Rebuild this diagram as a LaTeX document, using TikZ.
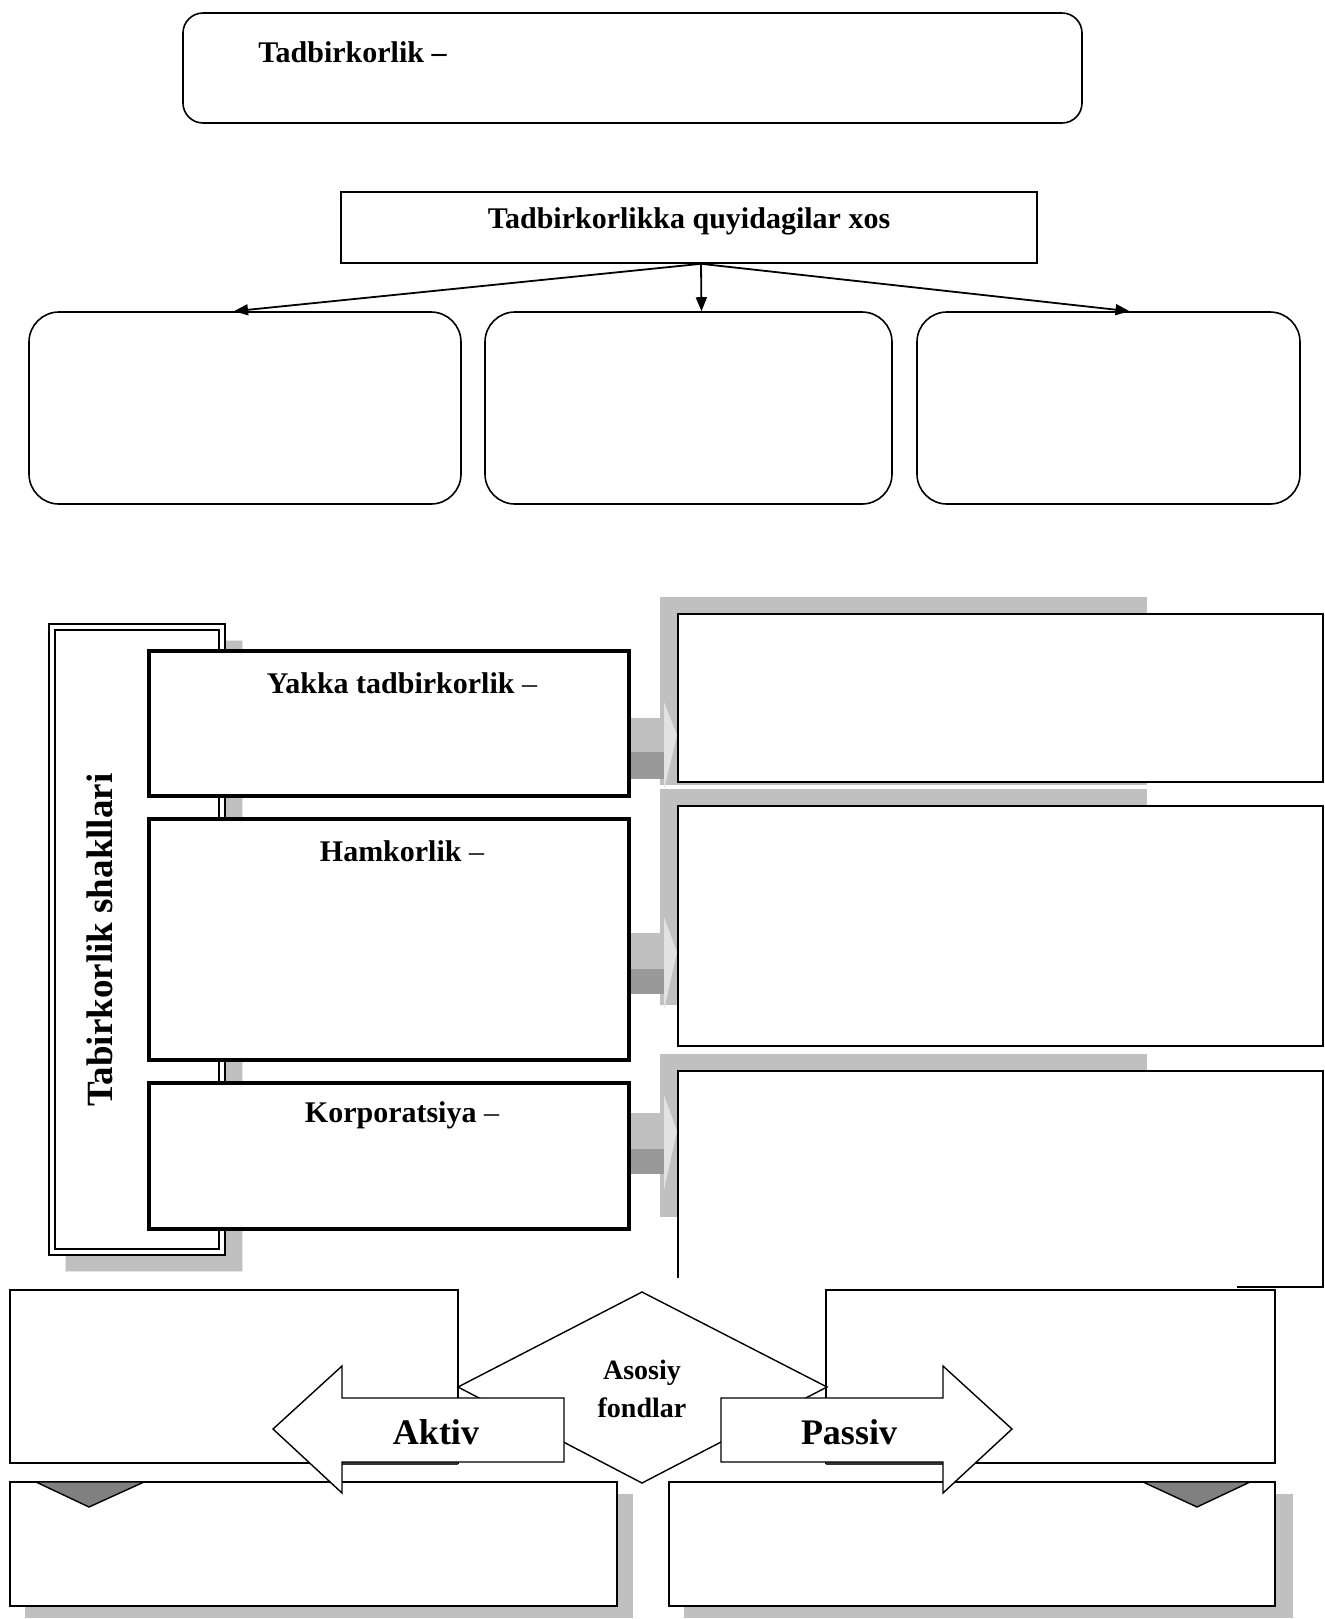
\documentclass[tikz,border=0pt]{standalone}
\usepackage{fontspec}
\setmainfont{Liberation Serif}
\usetikzlibrary{arrows.meta,fit,calc}
\definecolor{shgray}{HTML}{C0C0C0}
\definecolor{dkgray}{HTML}{999999}
\definecolor{hdgray}{HTML}{E2E2E2}
\definecolor{trigray}{HTML}{808080}
\begin{document}
\begin{tikzpicture}[x=0.5pt,y=-0.5pt,
  rbox/.style={draw, line width=0.8pt, rounded corners=15pt, inner sep=0pt},
  plainbox/.style={draw, line width=0.8pt, fill=white, inner sep=0pt},
  thickbox/.style={draw, line width=1.8pt, fill=white, inner sep=0pt},
  lbl/.style={font=\bfseries\fontsize{15}{18}\selectfont, inner sep=0pt},
  biglbl/.style={font=\bfseries\fontsize{18}{22}\selectfont, inner sep=0pt},
  smlbl/.style={font=\bfseries\fontsize{14}{17}\selectfont, inner sep=0pt, align=center},
  conn/.style={-{Triangle[length=7pt,width=5.5pt]}, line width=0.9pt},
  blockarrow/.style={draw, line width=0.7pt, fill=white}
]
\useasboundingbox (0,0) rectangle (1325,1619);

% ---------- top part ----------
\node[rbox, rounded corners=10pt, fit={(183,13) (1082,123)}] (def) {};
\node[lbl, anchor=west] (deft) at (258,52) {Tadbirkorlik –};

\node[plainbox, fit={(341,192) (1037,263)}] (xos) {};
\node[lbl] (xost) at (689,221) {Tadbirkorlikka quyidagilar xos};

\node[rbox, fit={(29,312) (461,504)}] (fa) {};
\node[rbox, fit={(485,312) (892,504)}] (fb) {};
\node[rbox, fit={(917,312) (1300,504)}] (fc) {};

\coordinate (src) at ($(xos.south)+(12,0)$);
\draw[conn] (src) -- ($(fa.north)+(-11,0)$);
\draw[conn] (src) -- ($(fb.north)+(13,0)$);
\draw[conn] (src) -- ($(fc.north)+(21,0)$);

% ---------- middle part ----------
% shadow of vertical box
\path[fill=shgray, draw=gray!20, line width=0.5pt] (65,640) rectangle (242,1271);
\node[draw, line width=1pt, fill=white, inner sep=0pt, fit={(49,624) (225,1255)}] (vbox) {};
\draw[line width=1.3pt] (55,630) rectangle (219,1249);
\node[font=\bfseries\fontsize{18.5}{22}\selectfont, rotate=90, inner sep=0pt] (vt) at (100,940) {Tabirkorlik shakllari};

% gray shadows of right boxes
\fill[shgray] (660,597) rectangle (1147,785);
\fill[shgray] (660,789) rectangle (1147,1005);
\fill[shgray] (660,1054) rectangle (1147,1217);

% right boxes
\node[draw, line width=0.9pt, fill=white, inner sep=0pt, fit={(678,614) (1323,782)}] (r1) {};
\node[draw, line width=0.9pt, fill=white, inner sep=0pt, fit={(678,806) (1323,1046)}] (r2) {};
\fill[white] (678,1071) rectangle (1323,1287);
\coordinate (r3nw) at (678,1071);
\coordinate (r3ne) at (1323,1071);
\coordinate (r3sw) at (678,1278);
\coordinate (r3se) at (1323,1287);
\coordinate (r3sm) at (1237,1287);
\draw[line width=0.9pt] (r3sw) -- (r3nw) -- (r3ne) -- (r3se) -- (r3sm);

% left boxes
\node[thickbox, fit={(149,651) (629,796)}] (yak) {};
\node[thickbox, fit={(149,819) (629,1060)}] (ham) {};
\node[thickbox, fit={(149,1083) (629,1229)}] (kor) {};
\node[lbl] (yakt) at (402,683) {Yakka tadbirkorlik {\mdseries –}};
\node[lbl] (hamt) at (402,851) {Hamkorlik {\mdseries –}};
\node[lbl] (kort) at (402,1115) {Korporatsiya {\mdseries –}};

% 3D gray arrows
\fill[shgray] (631,718) rectangle (664,752);
\fill[dkgray] (631,752) rectangle (664,779);
\fill[hdgray] (664,702) -- (677,735) -- (664,790) -- cycle;

\fill[shgray] (631,933) rectangle (664,969);
\fill[dkgray] (631,969) rectangle (664,994);
\fill[hdgray] (664,917) -- (677,952) -- (664,1010) -- cycle;

\fill[shgray] (631,1113) rectangle (664,1149);
\fill[dkgray] (631,1149) rectangle (664,1174);
\fill[hdgray] (664,1095) -- (677,1131) -- (664,1190) -- cycle;

% ---------- bottom part ----------
\node[draw, line width=0.8pt, fill=white, inner sep=0pt, fit={(10,1290) (458,1463)}] (ab) {};
\node[draw, line width=0.8pt, fill=white, inner sep=0pt, fit={(826,1290) (1275,1463)}] (pb) {};
\fill[black!80] (342,1462) rectangle (458,1465);
\fill[black!80] (826,1462) rectangle (943,1465);

\fill[shgray] (25,1494) rectangle (633,1618);
\node[draw, line width=0.8pt, fill=white, inner sep=0pt, fit={(10,1482) (617,1606)}] (ab2) {};
\fill[shgray] (684,1494) rectangle (1293,1618);
\node[draw, line width=0.8pt, fill=white, inner sep=0pt, fit={(669,1482) (1275,1606)}] (pb2) {};

\filldraw[fill=trigray, line width=0.7pt] (36,1482) -- (144,1482) -- (89,1507) -- cycle;
\filldraw[fill=trigray, line width=0.7pt] (1143,1482) -- (1250,1482) -- (1197,1507) -- cycle;

% diamond
\coordinate (dt) at (642,1292);
\coordinate (dl) at (458,1387);
\coordinate (db) at (642,1483);
\coordinate (dr) at (827,1387);
\filldraw[fill=white, line width=0.7pt] (dt) -- (dr) -- (db) -- (dl) -- cycle;
\node[smlbl] (asos) at (642,1389) {Asosiy\\[2pt]fondlar};

% block arrows
\draw[blockarrow] (564,1398) -- (342,1398) -- (342,1366) -- (273,1429) -- (342,1493) -- (342,1462) -- (564,1462) -- cycle;
\node[biglbl] (akt) at (436,1432) {Aktiv};
\draw[blockarrow] (721,1398) -- (943,1398) -- (943,1366) -- (1012,1429) -- (943,1493) -- (943,1462) -- (721,1462) -- cycle;
\node[biglbl] (pas) at (849,1432) {Passiv};
\end{tikzpicture}
\end{document}
